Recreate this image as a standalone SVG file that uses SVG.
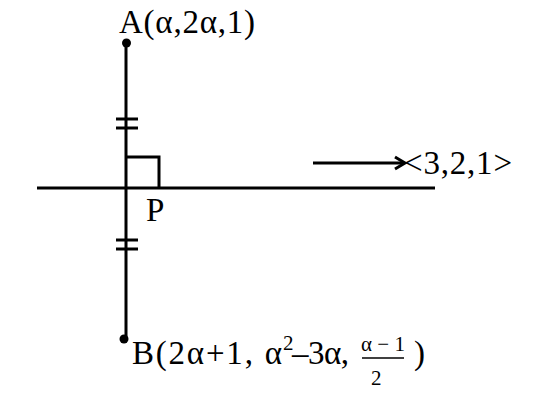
<svg xmlns="http://www.w3.org/2000/svg" width="541" height="401" viewBox="0 0 541 401">
<style>
.ln{stroke:#000;stroke-width:3;fill:none;stroke-linecap:butt}
.t{font-family:"Liberation Serif","Times New Roman",serif;fill:#000;font-size:33px}
.s{font-family:"Liberation Serif","Times New Roman",serif;fill:#000;font-size:21px}
</style>
<rect width="541" height="401" fill="#fff"/>
<g id="connectors">
<line class="ln" x1="126" y1="43" x2="126" y2="339"/>
<line class="ln" x1="37" y1="188" x2="435" y2="188"/>
<polyline class="ln" points="126,157 159,157 159,188"/>
<line class="ln" x1="116" y1="119" x2="138" y2="119"/>
<line class="ln" x1="116" y1="128" x2="138" y2="128"/>
<line class="ln" x1="116" y1="240" x2="138" y2="240"/>
<line class="ln" x1="116" y1="249" x2="138" y2="249"/>
<line class="ln" x1="313" y1="163" x2="404" y2="163"/>
<polyline class="ln" points="395,157 405,163 395,169"/>
</g>
<g id="A">
<circle cx="126.5" cy="43" r="4.5" fill="#000"/>
<text class="t" x="119" y="33" textLength="136" lengthAdjust="spacing">A(α,2α,1)</text>
</g>
<g id="B">
<circle cx="124" cy="339" r="4.5" fill="#000"/>
<text class="t" x="132" y="364" textLength="150" lengthAdjust="spacing">B(2α+1, α</text>
<text class="s" x="283" y="350">2</text>
<text class="t" x="292" y="364" textLength="57" lengthAdjust="spacing">–3α,</text>
<text class="s" x="383" y="351" text-anchor="middle">α − 1</text>
<line x1="362" y1="358" x2="404" y2="358" stroke="#000" stroke-width="1.5"/>
<text class="s" x="371" y="385">2</text>
<text class="t" x="414" y="364">)</text>
</g>
<g id="P">
<text class="t" x="146" y="221">P</text>
</g>
<g id="vector">
<text class="t" x="404" y="174" textLength="108" lengthAdjust="spacing">&lt;3,2,1&gt;</text>
</g>
</svg>
